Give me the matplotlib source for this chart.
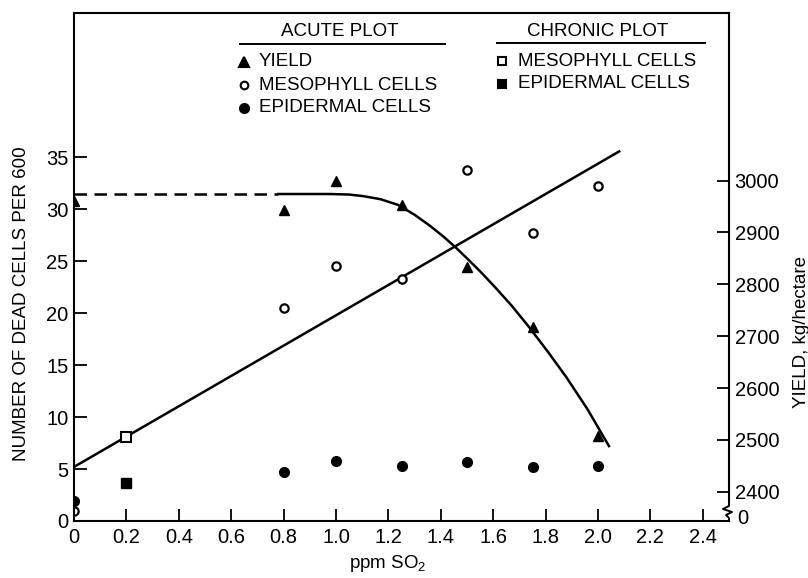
import matplotlib
matplotlib.use("Agg")
import matplotlib.pyplot as plt
from matplotlib.lines import Line2D

plt.rcParams['font.family'] = ['Liberation Sans', 'DejaVu Sans']
plt.rcParams['mathtext.fontset'] = 'custom'
plt.rcParams['mathtext.rm'] = 'Liberation Sans'

# ---- data ----
ppm = [0, 0.8, 1.0, 1.25, 1.5, 1.75, 2.0]
acute_yield = [2961, 2944, 3000, 2952, 2833, 2718, 2507]          # kg/hectare
acute_mesophyll = [1.0, 20.5, 24.5, 23.3, 33.8, 27.7, 32.2]        # dead cells per 600
acute_epidermal = [1.9, 4.7, 5.8, 5.3, 5.7, 5.2, 5.3]

chronic_ppm = [0.2]
chronic_mesophyll = [8.1]
chronic_epidermal = [3.7]

# fitted regression of dead mesophyll cells on SO2
fit_ppm = [0.0, 2.085]
fit_cells = [5.2, 35.6]

# yield response curve (dashed plateau, then solid decline)
plateau_ppm = [0.0, 0.78]
plateau_yield = [2974, 2974]
decline_ppm = [0.78, 0.976, 1.05, 1.103, 1.17, 1.237, 1.30, 1.358, 1.41, 1.459,
               1.50, 1.548, 1.606, 1.67, 1.733, 1.81, 1.879, 1.96, 2.042]
decline_yield = [2974, 2974, 2973, 2970, 2964, 2953, 2934, 2913, 2892, 2870,
                 2850, 2826, 2795, 2759, 2720, 2669, 2621, 2559, 2488]

x_ticks = [0, 0.2, 0.4, 0.6, 0.8, 1.0, 1.2, 1.4, 1.6, 1.8, 2.0, 2.2, 2.4]
x_ticklabels = ['0', '0.2', '0.4', '0.6', '0.8', '1.0', '1.2', '1.4', '1.6', '1.8', '2.0', '2.2', '2.4']
cell_ticks = [0, 5, 10, 15, 20, 25, 30, 35]
yield_ticks = [2400, 2500, 2600, 2700, 2800, 2900, 3000]

W, H = 808, 578
def fx(px):
    return px / W
def fy(py):
    return 1 - py / H

fig = plt.figure(figsize=(W / 100, H / 100), dpi=100)
ax = fig.add_axes([fx(74), fy(521), (729 - 74) / W, (521 - 13) / H])
ax2 = ax.twinx()

ax.set_xlim(0, 2.5)
ax.set_ylim(0, 48.85)
ax2.set_ylim(2343.6, 3323)

lw = 1.8
ms = dict(color='black', linestyle='none')
tick_fs = 14.5
text_fs = 13.5

# regression line and yield curve
ax.plot(fit_ppm, fit_cells, color='black', lw=lw, solid_capstyle='butt')
ax2.plot(plateau_ppm, plateau_yield, color='black', lw=lw, dashes=(5, 3))
ax2.plot(decline_ppm, decline_yield, color='black', lw=lw, solid_joinstyle='round')

# acute plot points
ax2.plot(ppm, acute_yield, marker='^', markersize=7, **ms)
ax.plot(ppm, acute_mesophyll, marker='o', markersize=6, markerfacecolor='white',
        markeredgewidth=1.6, **ms)
ax.plot(ppm, acute_epidermal, marker='o', markersize=7, **ms)

# chronic plot points
ax.plot(chronic_ppm, chronic_mesophyll, marker='s', markersize=7, markerfacecolor='white',
        markeredgewidth=1.5, **ms)
ax.plot(chronic_ppm, chronic_epidermal, marker='s', markersize=7, **ms)

# axes styling
for name in ['left', 'bottom', 'top']:
    ax.spines[name].set_linewidth(1.5)
ax.spines['right'].set_visible(False)
for name in ['left', 'bottom', 'top']:
    ax2.spines[name].set_visible(False)
ax2.spines['right'].set_linewidth(1.5)
ax2.spines['right'].set_bounds(2382, 3323)

ax.set_xticks(x_ticks)
ax.set_xticklabels(x_ticklabels)
ax.set_yticks(cell_ticks)
ax.tick_params(axis='both', direction='in', length=9, width=1.3, labelsize=tick_fs, pad=4)
ax.tick_params(axis='x', pad=5)
ax.tick_params(top=False, right=False)
ax2.set_yticks(yield_ticks)
ax2.tick_params(axis='y', direction='in', length=9, width=1.3, labelsize=tick_fs, pad=4)

# broken right axis with zero label
fig.add_artist(Line2D([fx(729), fx(729), fx(723), fx(732), fx(726), fx(729), fx(729)],
                      [fy(501), fy(506), fy(509), fy(512), fy(515), fy(518), fy(521)],
                      transform=fig.transFigure, color='black', lw=1.4))
fig.text(fx(737), fy(519), '0', ha='left', va='center', fontsize=tick_fs)

# axis titles
fig.text(fx(22), fy(304), 'NUMBER OF DEAD CELLS PER 600', rotation=90,
         ha='center', va='center', fontsize=text_fs)
fig.text(fx(801), fy(332), 'YIELD, kg/hectare', rotation=90,
         ha='center', va='center', fontsize=text_fs)
fig.text(fx(388), fy(564), 'ppm SO$_\\mathregular{2}$', ha='center', va='center', fontsize=text_fs)

# key
def key_marker(px, py, marker, filled, size):
    fig.add_artist(Line2D([fx(px)], [fy(py)], transform=fig.transFigure, marker=marker,
                          markersize=size, color='black', linestyle='none',
                          markerfacecolor='black' if filled else 'white',
                          markeredgewidth=1.5))

fig.text(fx(340), fy(32), 'ACUTE PLOT', ha='center', va='center', fontsize=text_fs)
fig.add_artist(Line2D([fx(240), fx(445)], [fy(44), fy(44)], transform=fig.transFigure,
                      color='black', lw=1.4))
key_marker(244, 62, '^', True, 6.5)
key_marker(244, 85, 'o', False, 5.5)
key_marker(244, 108, 'o', True, 6.5)
fig.text(fx(259), fy(62), 'YIELD', ha='left', va='center', fontsize=text_fs)
fig.text(fx(259), fy(85), 'MESOPHYLL CELLS', ha='left', va='center', fontsize=text_fs)
fig.text(fx(259), fy(108), 'EPIDERMAL CELLS', ha='left', va='center', fontsize=text_fs)

fig.text(fx(598), fy(31), 'CHRONIC PLOT', ha='center', va='center', fontsize=text_fs)
fig.add_artist(Line2D([fx(497), fx(705)], [fy(43), fy(43)], transform=fig.transFigure,
                      color='black', lw=1.4))
key_marker(502, 61, 's', False, 6)
key_marker(502, 84, 's', True, 6)
fig.text(fx(518), fy(61), 'MESOPHYLL CELLS', ha='left', va='center', fontsize=text_fs)
fig.text(fx(518), fy(84), 'EPIDERMAL CELLS', ha='left', va='center', fontsize=text_fs)

fig.savefig('out.png', dpi=100)
